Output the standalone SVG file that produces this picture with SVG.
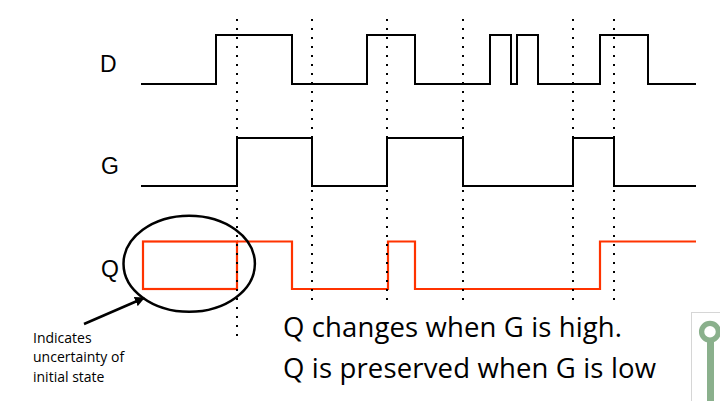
<svg xmlns="http://www.w3.org/2000/svg" width="720" height="401" viewBox="0 0 720 401">
  <defs>
    <style>
      .sig { fill: none; stroke: #000; stroke-width: 2; stroke-linejoin: miter; }
      .q { fill: none; stroke: #ff3300; stroke-width: 2.2; }
      .dot { fill: none; stroke: #000; stroke-width: 2; stroke-dasharray: 2 7; }
      .lbl { font-family: "Liberation Sans", Arial, sans-serif; font-size: 23px; fill: #000; }
      .main { font-family: "Open Sans", "Liberation Sans", sans-serif; font-size: 27.5px; fill: #000; }
      .note { font-family: "Open Sans", "Liberation Sans", sans-serif; font-size: 14px; fill: #000; }
    </style>
    <marker id="arrow" viewBox="0 0 10 10" refX="9" refY="5" markerWidth="10" markerHeight="10" markerUnits="userSpaceOnUse" orient="auto">
      <path d="M0,0 L10,5 L0,10 z" fill="#000"/>
    </marker>
  </defs>
  <rect width="720" height="401" fill="#fff"/>

  <g id="label-D"><text class="lbl" x="100" y="72">D</text></g>
  <g id="label-G"><text class="lbl" x="101" y="174">G</text></g>
  <g id="label-Q"><text class="lbl" x="101" y="277">Q</text></g>

  <g id="wave-D">
    <path class="sig" d="M141,84 H216 V35 H292 V84 H367 V35 H415 V84 H490 V35 H511 V84 H517 V35 H538 V84 H600 V35 H648 V84 H696"/>
  </g>
  <g id="wave-G">
    <path class="sig" d="M141,186 H237 V138 H312 V186 H387 V138 H463 V186 H573 V138 H614 V186 H696"/>
  </g>
  <g id="wave-Q">
    <rect class="q" x="143" y="241.5" width="94" height="47.5"/>
    <path class="q" d="M237,241.5 H292 V289 H388 V241.5 H415 V289 H600 V241.5 H696"/>
  </g>

  <g id="clock-edges">
    <line class="dot" x1="237" y1="19" x2="237" y2="341"/>
    <line class="dot" x1="312" y1="19" x2="312" y2="303"/>
    <line class="dot" x1="387" y1="19" x2="387" y2="303"/>
    <line class="dot" x1="463" y1="19" x2="463" y2="303"/>
    <line class="dot" x1="573" y1="19" x2="573" y2="303"/>
    <line class="dot" x1="614" y1="19" x2="614" y2="303"/>
  </g>

  <g id="uncertainty-ellipse">
    <ellipse cx="189.2" cy="263.7" rx="65.7" ry="48" fill="none" stroke="#000" stroke-width="2.5"/>
  </g>

  <g id="note">
    <text class="note" x="33" y="343">Indicates</text>
    <text class="note" x="33" y="362">uncertainty of</text>
    <text class="note" x="33" y="382">initial state</text>
  </g>

  <g id="connectors">
    <line x1="84" y1="324" x2="144" y2="298" stroke="#000" stroke-width="2.5" marker-end="url(#arrow)"/>
  </g>

  <g id="caption">
    <text class="main" x="283" y="337" textLength="339">Q changes when G is high.</text>
    <text class="main" x="283" y="378" textLength="373">Q is preserved when G is low</text>
  </g>

  <g id="corner-icon">
    <rect x="691.5" y="312.5" width="40" height="100" fill="#fff" stroke="#d6d6d6" stroke-width="1"/>
    <line x1="710.5" y1="338" x2="710.5" y2="401" stroke="#8ab08c" stroke-width="7"/>
    <circle cx="710" cy="331.7" r="8.4" fill="#fff" stroke="#8ab08c" stroke-width="5.3"/>
  </g>
</svg>
